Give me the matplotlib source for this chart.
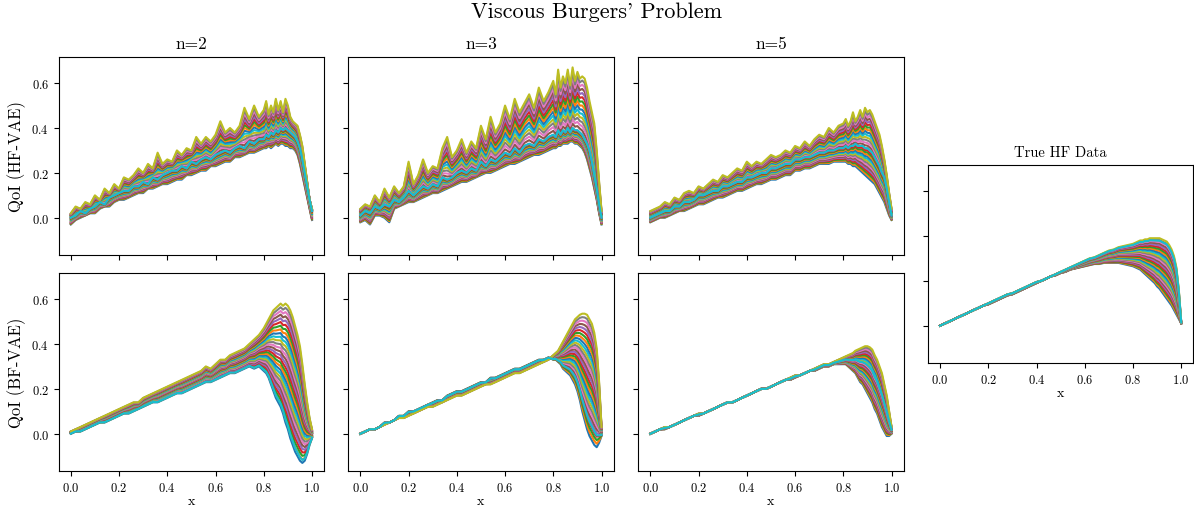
import numpy as np
import matplotlib
matplotlib.use('Agg')
import matplotlib.pyplot as plt

plt.rcParams['font.family'] = ['cmr10', 'DejaVu Serif']
plt.rcParams['mathtext.fontset'] = 'cm'
plt.rcParams['axes.formatter.use_mathtext'] = True
plt.rcParams['axes.unicode_minus'] = False

# spatial grid (finer near the shock)
x = [0.00, 0.02, 0.04, 0.06, 0.08, 0.10, 0.12, 0.14, 0.16, 0.18,
     0.20, 0.22, 0.24, 0.26, 0.28, 0.30, 0.32, 0.34, 0.36, 0.38,
     0.40, 0.42, 0.44, 0.46, 0.48, 0.50, 0.52, 0.54, 0.56, 0.58,
     0.60, 0.62, 0.64, 0.66, 0.68, 0.70, 0.72, 0.74, 0.76, 0.78,
     0.80, 0.81, 0.82, 0.83, 0.84, 0.85, 0.86, 0.87, 0.88, 0.89,
     0.90, 0.91, 0.92, 0.93, 0.94, 0.95, 0.96, 0.97, 0.98, 0.99,
     1.00]

# HF-VAE samples, n=2 : lowest, typical and highest sample
hf2_low = [-0.03, -0.01, 0.00, 0.01, 0.02, 0.02, 0.04, 0.05, 0.05, 0.07,
           0.08, 0.08, 0.09, 0.10, 0.11, 0.11, 0.13, 0.13, 0.14, 0.15,
           0.15, 0.16, 0.17, 0.17, 0.19, 0.19, 0.20, 0.21, 0.21, 0.23,
           0.23, 0.24, 0.25, 0.25, 0.27, 0.27, 0.28, 0.29, 0.29, 0.30,
           0.31, 0.31, 0.32, 0.31, 0.32, 0.33, 0.32, 0.33, 0.33, 0.32,
           0.32, 0.31, 0.31, 0.30, 0.28, 0.24, 0.19, 0.14, 0.09, 0.04,
           -0.01]
hf2_mid = [0.00, 0.01, 0.03, 0.02, 0.04, 0.05, 0.07, 0.06, 0.09, 0.10,
           0.11, 0.12, 0.12, 0.14, 0.14, 0.16, 0.15, 0.18, 0.17, 0.19,
           0.20, 0.21, 0.21, 0.23, 0.22, 0.25, 0.24, 0.26, 0.27, 0.26,
           0.28, 0.29, 0.30, 0.29, 0.31, 0.32, 0.31, 0.34, 0.33, 0.35,
           0.35, 0.37, 0.36, 0.38, 0.37, 0.39, 0.38, 0.40, 0.39, 0.40,
           0.39, 0.38, 0.37, 0.36, 0.34, 0.31, 0.26, 0.20, 0.14, 0.08,
           0.03]
hf2_high = [0.02, 0.05, 0.04, 0.07, 0.06, 0.10, 0.08, 0.13, 0.11, 0.15,
            0.13, 0.18, 0.17, 0.19, 0.22, 0.20, 0.24, 0.22, 0.29, 0.24,
            0.26, 0.25, 0.30, 0.28, 0.31, 0.30, 0.36, 0.33, 0.36, 0.34,
            0.37, 0.43, 0.38, 0.40, 0.38, 0.41, 0.49, 0.44, 0.50, 0.45,
            0.48, 0.52, 0.46, 0.50, 0.47, 0.53, 0.48, 0.52, 0.47, 0.53,
            0.50, 0.45, 0.43, 0.42, 0.41, 0.37, 0.32, 0.24, 0.16, 0.08,
            0.04]

# HF-VAE samples, n=3
hf3_low = [-0.02, -0.01, -0.03, 0.01, 0.01, 0.00, -0.02, 0.04, 0.05, 0.06,
           0.07, 0.07, 0.08, 0.09, 0.10, 0.11, 0.11, 0.12, 0.13, 0.14,
           0.15, 0.16, 0.16, 0.17, 0.18, 0.19, 0.20, 0.20, 0.21, 0.22,
           0.23, 0.24, 0.24, 0.25, 0.26, 0.27, 0.28, 0.28, 0.29, 0.30,
           0.31, 0.31, 0.32, 0.32, 0.33, 0.33, 0.33, 0.34, 0.34, 0.33,
           0.33, 0.32, 0.31, 0.29, 0.26, 0.22, 0.18, 0.13, 0.08, 0.02,
           -0.03]
hf3_mid = [0.01, 0.03, 0.02, 0.05, 0.04, 0.06, 0.05, 0.08, 0.07, 0.09,
           0.12, 0.10, 0.12, 0.14, 0.13, 0.15, 0.14, 0.18, 0.17, 0.18,
           0.20, 0.21, 0.20, 0.22, 0.21, 0.25, 0.23, 0.26, 0.25, 0.27,
           0.29, 0.28, 0.31, 0.29, 0.32, 0.33, 0.32, 0.35, 0.34, 0.36,
           0.37, 0.36, 0.39, 0.37, 0.39, 0.38, 0.40, 0.38, 0.40, 0.39,
           0.39, 0.38, 0.37, 0.35, 0.33, 0.30, 0.25, 0.19, 0.13, 0.06,
           0.00]
hf3_high = [0.04, 0.06, 0.05, 0.10, 0.07, 0.13, 0.09, 0.14, 0.11, 0.14,
            0.25, 0.15, 0.19, 0.26, 0.20, 0.23, 0.22, 0.31, 0.36, 0.27,
            0.30, 0.35, 0.29, 0.34, 0.31, 0.41, 0.35, 0.45, 0.38, 0.42,
            0.50, 0.44, 0.53, 0.47, 0.51, 0.55, 0.49, 0.58, 0.52, 0.56,
            0.61, 0.55, 0.66, 0.58, 0.63, 0.60, 0.66, 0.59, 0.67, 0.61,
            0.65, 0.62, 0.63, 0.62, 0.58, 0.52, 0.47, 0.42, 0.30, 0.16,
            0.03]

# HF-VAE samples, n=5
hf5_low = [-0.02, -0.01, 0.00, 0.00, 0.01, 0.02, 0.03, 0.03, 0.04, 0.05,
           0.06, 0.06, 0.07, 0.08, 0.09, 0.09, 0.10, 0.11, 0.12, 0.12,
           0.13, 0.14, 0.15, 0.15, 0.16, 0.17, 0.17, 0.18, 0.19, 0.19,
           0.21, 0.21, 0.22, 0.22, 0.23, 0.24, 0.24, 0.24, 0.25, 0.25,
           0.25, 0.25, 0.24, 0.24, 0.23, 0.23, 0.22, 0.21, 0.20, 0.19,
           0.18, 0.17, 0.16, 0.15, 0.13, 0.11, 0.09, 0.07, 0.04, 0.01,
           -0.01]
hf5_mid = [0.00, 0.01, 0.02, 0.03, 0.03, 0.05, 0.05, 0.07, 0.07, 0.08,
           0.10, 0.10, 0.11, 0.12, 0.12, 0.14, 0.14, 0.15, 0.16, 0.16,
           0.18, 0.18, 0.19, 0.20, 0.20, 0.22, 0.22, 0.23, 0.24, 0.24,
           0.26, 0.26, 0.27, 0.27, 0.28, 0.29, 0.29, 0.30, 0.30, 0.31,
           0.31, 0.32, 0.31, 0.32, 0.32, 0.33, 0.32, 0.32, 0.32, 0.31,
           0.31, 0.30, 0.29, 0.27, 0.25, 0.23, 0.20, 0.18, 0.13, 0.07,
           0.01]
hf5_high = [0.03, 0.04, 0.05, 0.07, 0.06, 0.09, 0.08, 0.11, 0.12, 0.11,
            0.14, 0.13, 0.15, 0.17, 0.16, 0.19, 0.18, 0.20, 0.22, 0.21,
            0.25, 0.23, 0.25, 0.24, 0.26, 0.28, 0.27, 0.28, 0.30, 0.29,
            0.32, 0.31, 0.34, 0.32, 0.35, 0.37, 0.36, 0.40, 0.38, 0.41,
            0.42, 0.44, 0.41, 0.43, 0.47, 0.43, 0.45, 0.48, 0.45, 0.49,
            0.47, 0.48, 0.46, 0.43, 0.40, 0.37, 0.32, 0.26, 0.19, 0.11,
            0.04]

# BF-VAE samples, n=2
bf2_low = [0.00, 0.01, 0.01, 0.02, 0.03, 0.04, 0.05, 0.05, 0.06, 0.07,
           0.08, 0.09, 0.09, 0.10, 0.11, 0.12, 0.13, 0.14, 0.14, 0.15,
           0.16, 0.17, 0.18, 0.18, 0.19, 0.20, 0.21, 0.22, 0.23, 0.23,
           0.24, 0.25, 0.26, 0.27, 0.27, 0.28, 0.29, 0.30, 0.29, 0.30,
           0.28, 0.27, 0.25, 0.22, 0.19, 0.16, 0.14, 0.12, 0.09, 0.05,
           0.02, -0.02, -0.05, -0.08, -0.10, -0.12, -0.13, -0.12, -0.09, -0.05,
           -0.02]
bf2_high = [0.01, 0.02, 0.03, 0.04, 0.05, 0.06, 0.07, 0.08, 0.09, 0.10,
            0.11, 0.12, 0.13, 0.14, 0.14, 0.16, 0.17, 0.18, 0.19, 0.20,
            0.21, 0.22, 0.23, 0.24, 0.25, 0.26, 0.27, 0.28, 0.30, 0.29,
            0.31, 0.33, 0.33, 0.35, 0.36, 0.37, 0.38, 0.40, 0.42, 0.44,
            0.47, 0.49, 0.51, 0.53, 0.55, 0.56, 0.57, 0.58, 0.57, 0.58,
            0.57, 0.55, 0.52, 0.48, 0.44, 0.39, 0.31, 0.22, 0.14, 0.07,
            0.02]

# BF-VAE samples, n=3
bf3_low = [0.00, 0.01, 0.02, 0.02, 0.03, 0.05, 0.05, 0.06, 0.08, 0.08,
           0.10, 0.10, 0.11, 0.12, 0.13, 0.14, 0.15, 0.15, 0.17, 0.18,
           0.19, 0.19, 0.20, 0.21, 0.22, 0.23, 0.23, 0.25, 0.25, 0.26,
           0.27, 0.28, 0.29, 0.29, 0.30, 0.31, 0.32, 0.33, 0.33, 0.34,
           0.33, 0.33, 0.32, 0.31, 0.29, 0.28, 0.27, 0.26, 0.24, 0.22,
           0.19, 0.15, 0.10, 0.06, 0.02, -0.01, -0.03, -0.05, -0.06, -0.04,
           -0.01]
bf3_high = [0.00, 0.01, 0.02, 0.02, 0.03, 0.04, 0.05, 0.06, 0.07, 0.07,
            0.08, 0.09, 0.10, 0.11, 0.12, 0.12, 0.13, 0.14, 0.15, 0.16,
            0.17, 0.17, 0.18, 0.19, 0.20, 0.21, 0.22, 0.22, 0.23, 0.24,
            0.25, 0.26, 0.27, 0.27, 0.28, 0.29, 0.30, 0.31, 0.32, 0.33,
            0.35, 0.36, 0.37, 0.39, 0.41, 0.43, 0.45, 0.47, 0.49, 0.51,
            0.52, 0.53, 0.535, 0.535, 0.53, 0.51, 0.49, 0.45, 0.38, 0.23,
            0.03]

# BF-VAE samples, n=5
bf5_low = [0.00, 0.01, 0.02, 0.02, 0.03, 0.04, 0.05, 0.06, 0.07, 0.08,
           0.08, 0.09, 0.10, 0.11, 0.12, 0.13, 0.14, 0.14, 0.15, 0.16,
           0.17, 0.18, 0.19, 0.20, 0.20, 0.21, 0.22, 0.23, 0.24, 0.24,
           0.25, 0.26, 0.27, 0.28, 0.28, 0.29, 0.30, 0.30, 0.31, 0.31,
           0.31, 0.31, 0.30, 0.29, 0.28, 0.27, 0.25, 0.23, 0.22, 0.20,
           0.18, 0.16, 0.14, 0.11, 0.09, 0.06, 0.03, 0.01, -0.01, -0.01,
           0.00]
bf5_high = [0.00, 0.01, 0.02, 0.03, 0.03, 0.04, 0.05, 0.06, 0.07, 0.08,
            0.09, 0.09, 0.10, 0.11, 0.12, 0.13, 0.14, 0.14, 0.15, 0.16,
            0.17, 0.18, 0.19, 0.20, 0.20, 0.21, 0.22, 0.23, 0.24, 0.25,
            0.26, 0.26, 0.27, 0.28, 0.29, 0.30, 0.31, 0.31, 0.32, 0.33,
            0.34, 0.345, 0.35, 0.355, 0.36, 0.37, 0.375, 0.38, 0.385, 0.39,
            0.39, 0.385, 0.375, 0.35, 0.33, 0.30, 0.27, 0.22, 0.17, 0.10,
            0.03]

# true high-fidelity solutions
thf_low = [0.00, 0.01, 0.02, 0.03, 0.04, 0.05, 0.06, 0.07, 0.08, 0.09,
           0.095, 0.105, 0.115, 0.125, 0.135, 0.14, 0.15, 0.16, 0.17, 0.18,
           0.19, 0.20, 0.21, 0.22, 0.225, 0.235, 0.24, 0.25, 0.255, 0.26,
           0.265, 0.27, 0.275, 0.275, 0.28, 0.28, 0.28, 0.28, 0.275, 0.27,
           0.265, 0.26, 0.255, 0.25, 0.24, 0.23, 0.22, 0.21, 0.20, 0.19,
           0.175, 0.165, 0.15, 0.135, 0.12, 0.105, 0.09, 0.07, 0.05, 0.03,
           0.01]
thf_high = [0.00, 0.01, 0.02, 0.03, 0.04, 0.05, 0.06, 0.07, 0.08, 0.09,
            0.10, 0.11, 0.12, 0.13, 0.14, 0.145, 0.155, 0.165, 0.175, 0.185,
            0.195, 0.20, 0.21, 0.22, 0.23, 0.24, 0.25, 0.26, 0.27, 0.28,
            0.29, 0.30, 0.305, 0.315, 0.325, 0.335, 0.34, 0.35, 0.355, 0.36,
            0.365, 0.37, 0.375, 0.38, 0.38, 0.385, 0.385, 0.39, 0.39, 0.39,
            0.39, 0.39, 0.385, 0.38, 0.375, 0.36, 0.34, 0.31, 0.26, 0.16,
            0.015]

N_CURVES = 30
yticks = [0.0, 0.2, 0.4, 0.6]
xticks = [0.0, 0.2, 0.4, 0.6, 0.8, 1.0]


def draw_family(ax, profiles, last):
    # samples run through the given profiles from lowest to highest;
    # the last one (position `last` in 0..1) is drawn on top
    prof = np.asarray(profiles, dtype=float)
    k = len(prof) - 1
    t = np.append(np.linspace(0, 1, N_CURVES - 1), last)
    for ti in t:
        s = min(int(ti * k), k - 1)
        f = ti * k - s
        ax.plot(x, prof[s] + f * (prof[s + 1] - prof[s]), lw=1.5)


fig = plt.figure(figsize=(11.94, 5.10), dpi=100)

lefts = [0.0492, 0.2917, 0.5346]
w_ax, h_ax = 0.2222, 0.389
top_b, bot_b = 0.498, 0.0745

panels_top = [([hf2_low, hf2_mid, hf2_high], 0.5),
              ([hf3_low, hf3_mid, hf3_high], 0.5),
              ([hf5_low, hf5_mid, hf5_high], 0.5)]
panels_bot = [([bf2_low, bf2_high], 0.03),
              ([bf3_low, bf3_high], 0.12),
              ([bf5_low, bf5_high], 0.6)]
titles = ['n=2', 'n=3', 'n=5']

for i in range(3):
    ax_t = fig.add_axes([lefts[i], top_b, w_ax, h_ax])
    ax_b = fig.add_axes([lefts[i], bot_b, w_ax, h_ax])
    draw_family(ax_t, *panels_top[i])
    draw_family(ax_b, *panels_bot[i])
    ax_t.set_title(titles[i], fontsize=12.5)
    for ax in (ax_t, ax_b):
        ax.set_xlim(-0.05, 1.05)
        ax.set_ylim(-0.166, 0.718)
        ax.set_xticks(xticks)
        ax.set_yticks(yticks)
        ax.tick_params(labelsize=9)
        if i > 0:
            ax.set_yticklabels([])
    ax_t.set_xticklabels([])
    ax_b.set_xlabel('x', fontsize=10, labelpad=1)
    if i == 0:
        ax_t.set_ylabel('QoI (HF-VAE)', fontsize=12)
        ax_b.set_ylabel('QoI (BF-VAE)', fontsize=12)

ax_r = fig.add_axes([0.7772, 0.2863, w_ax, h_ax])
draw_family(ax_r, [thf_low, thf_high], 0.95)
ax_r.set_xlim(-0.05, 1.05)
ax_r.set_ylim(-0.166, 0.718)
ax_r.set_xticks(xticks)
ax_r.set_yticks(yticks)
ax_r.set_yticklabels([])
ax_r.tick_params(labelsize=9)
ax_r.set_xlabel('x', fontsize=10, labelpad=1)
ax_r.set_title('True HF Data', fontsize=10.5)

fig.suptitle("Viscous Burgers' Problem", fontsize=16, y=0.976, va='center')

fig.savefig('out.png', dpi=100)
